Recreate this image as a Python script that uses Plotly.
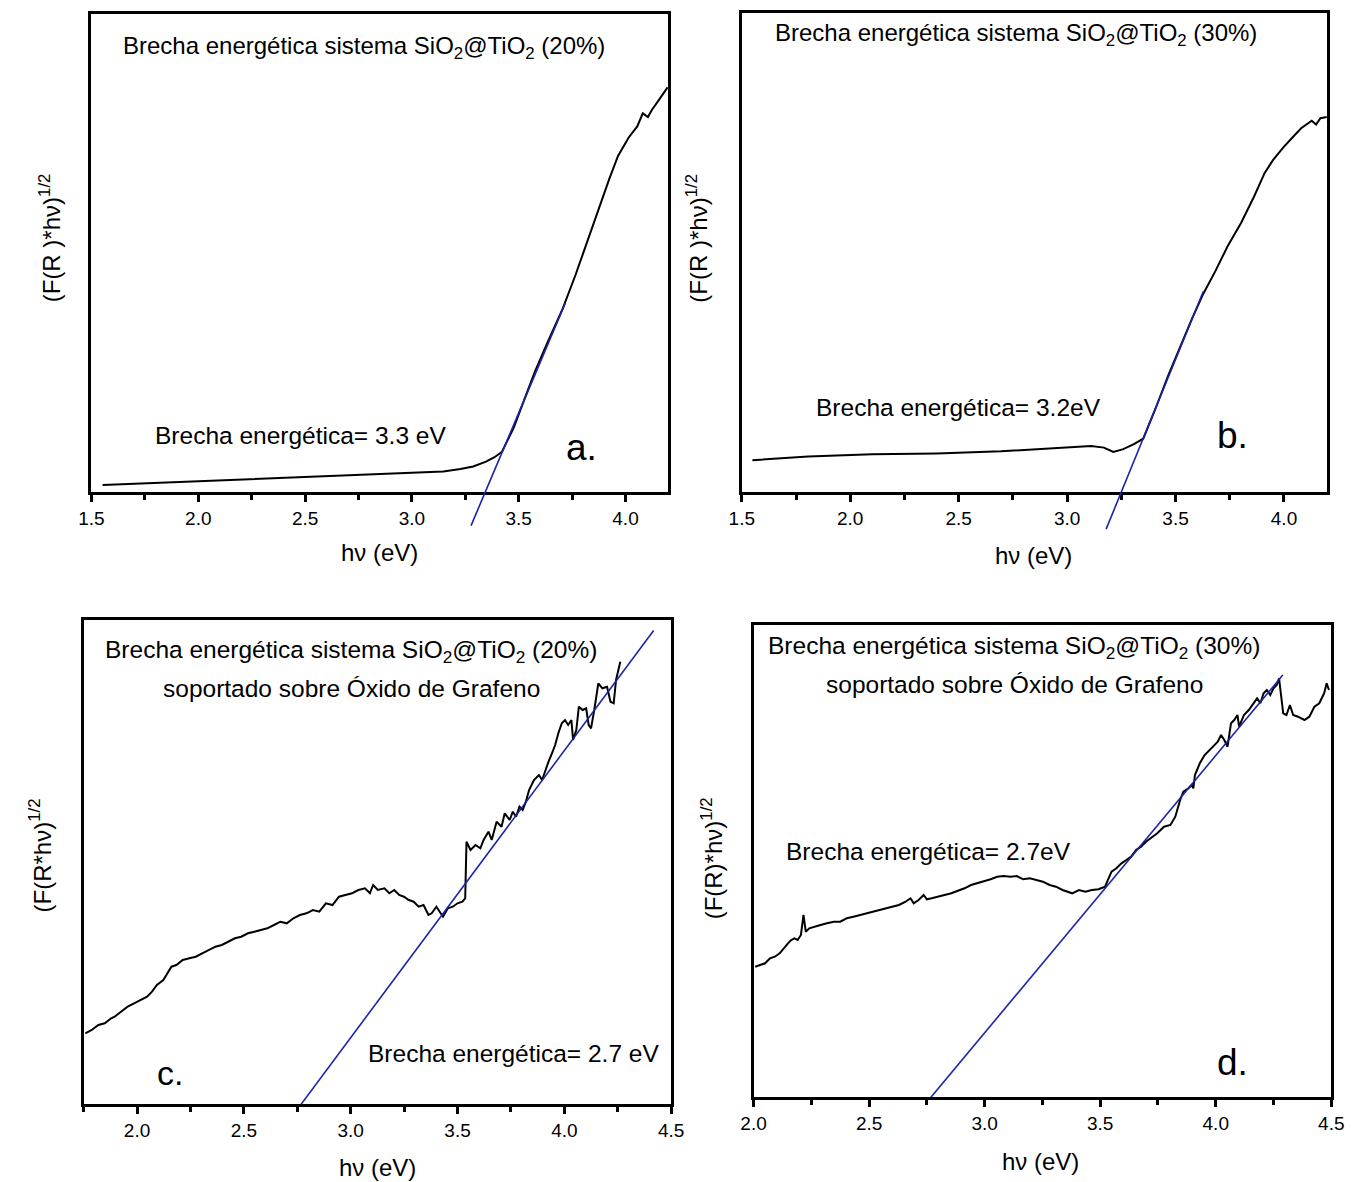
import plotly.graph_objects as go

# ---------------------------------------------------------------------------
# Kubelka-Munk (Tauc) curves, arbitrary units
# ---------------------------------------------------------------------------

# (a) SiO2@TiO2 (20 %)
a_hv = [1.552, 1.771, 2.011, 2.27, 2.529, 2.768, 3.008, 3.147, 3.227, 3.287,
        3.347, 3.387, 3.422, 3.477, 3.526, 3.576, 3.636, 3.706, 3.766, 3.826,
        3.875, 3.925, 3.965, 4.015, 4.055, 4.081, 4.105, 4.124, 4.155, 4.197]
a_f = [0.289, 0.307, 0.326, 0.352, 0.370, 0.390, 0.411, 0.426, 0.449, 0.475,
       0.523, 0.568, 0.623, 0.865, 1.144, 1.423, 1.720, 2.054, 2.390, 2.760,
       3.060, 3.356, 3.580, 3.765, 3.876, 4.006, 3.970, 4.043, 4.136, 4.266]
a_gap = 3.3            # eV
a_slope = 5.045        # a.u. per eV
a_fit_hv = [3.277, 3.718]

# (b) SiO2@TiO2 (30 %)
b_hv = [1.549, 1.806, 2.102, 2.399, 2.695, 2.992, 3.110, 3.170, 3.213, 3.259,
        3.308, 3.351, 3.407, 3.466, 3.515, 3.574, 3.628, 3.683, 3.742, 3.802,
        3.861, 3.911, 3.950, 3.999, 4.039, 4.079, 4.128, 4.148, 4.168, 4.197]
b_f = [0.583, 0.620, 0.642, 0.650, 0.672, 0.713, 0.724, 0.709, 0.665, 0.694,
       0.743, 0.798, 1.095, 1.430, 1.691, 1.988, 2.248, 2.471, 2.731, 2.955,
       3.215, 3.456, 3.586, 3.717, 3.810, 3.902, 3.977, 3.940, 4.003, 4.014]
b_gap = 3.2
b_slope = 5.305
b_fit_hv = [3.180, 3.628]

# (c) SiO2@TiO2 (20 %) on graphene oxide
c_hv = [1.758, 1.788, 1.819, 1.849, 1.879, 1.895, 1.925, 1.956, 1.986, 2.016,
        2.047, 2.070, 2.093, 2.123, 2.141, 2.161, 2.184, 2.214, 2.245, 2.275,
        2.305, 2.336, 2.367, 2.397, 2.427, 2.458, 2.488, 2.519, 2.549, 2.580,
        2.610, 2.641, 2.671, 2.701, 2.732, 2.762, 2.793, 2.823, 2.853, 2.884,
        2.915, 2.945, 2.975, 3.006, 3.036, 3.067, 3.090, 3.105, 3.127, 3.158,
        3.181, 3.204, 3.227, 3.249, 3.272, 3.295, 3.318, 3.341, 3.364, 3.379,
        3.401, 3.417, 3.432, 3.455, 3.478, 3.500, 3.523, 3.536, 3.542, 3.561,
        3.584, 3.607, 3.622, 3.645, 3.660, 3.683, 3.706, 3.721, 3.744, 3.759,
        3.774, 3.790, 3.805, 3.820, 3.835, 3.858, 3.881, 3.896, 3.911, 3.926,
        3.942, 3.957, 3.972, 3.988, 4.003, 4.018, 4.033, 4.041, 4.056, 4.068,
        4.086, 4.102, 4.114, 4.125, 4.140, 4.159, 4.178, 4.200, 4.216, 4.231,
        4.242, 4.262]
c_f = [0.905, 0.938, 0.988, 1.005, 1.055, 1.071, 1.121, 1.171, 1.205, 1.238,
       1.271, 1.321, 1.388, 1.438, 1.505, 1.571, 1.588, 1.638, 1.655, 1.671,
       1.705, 1.738, 1.771, 1.788, 1.821, 1.855, 1.871, 1.905, 1.921, 1.938,
       1.955, 1.988, 2.021, 2.005, 2.055, 2.088, 2.105, 2.138, 2.121, 2.205,
       2.188, 2.271, 2.288, 2.305, 2.338, 2.355, 2.305, 2.388, 2.338, 2.355,
       2.305, 2.338, 2.288, 2.271, 2.238, 2.221, 2.171, 2.188, 2.088, 2.105,
       2.171, 2.121, 2.071, 2.155, 2.171, 2.205, 2.221, 2.255, 2.821, 2.738,
       2.788, 2.755, 2.838, 2.921, 2.838, 3.021, 2.971, 3.105, 3.038, 3.121,
       3.071, 3.171, 3.138, 3.221, 3.338, 3.438, 3.488, 3.438, 3.538, 3.621,
       3.705, 3.788, 3.905, 4.005, 4.038, 3.988, 4.038, 3.838, 3.938, 4.171,
       4.138, 4.155, 3.988, 3.955, 4.138, 4.405, 4.355, 4.371, 4.221, 4.205,
       4.438, 4.621]
c_gap = 2.7
c_slope = 2.871
c_fit_hv = [2.7, 4.418]

# (d) SiO2@TiO2 (30 %) on graphene oxide
d_hv = [2.007, 2.028, 2.050, 2.071, 2.092, 2.113, 2.135, 2.149, 2.163, 2.177,
        2.191, 2.205, 2.216, 2.226, 2.241, 2.262, 2.290, 2.318, 2.347, 2.375,
        2.403, 2.432, 2.460, 2.488, 2.517, 2.545, 2.573, 2.601, 2.629, 2.658,
        2.679, 2.693, 2.714, 2.736, 2.750, 2.771, 2.799, 2.828, 2.856, 2.884,
        2.913, 2.941, 2.969, 2.997, 3.026, 3.054, 3.082, 3.111, 3.139, 3.167,
        3.196, 3.224, 3.252, 3.281, 3.309, 3.337, 3.379, 3.408, 3.436, 3.464,
        3.493, 3.521, 3.535, 3.549, 3.570, 3.592, 3.613, 3.634, 3.655, 3.677,
        3.698, 3.719, 3.747, 3.776, 3.804, 3.825, 3.846, 3.860, 3.882, 3.896,
        3.903, 3.910, 3.931, 3.952, 3.981, 4.009, 4.023, 4.037, 4.051, 4.066,
        4.080, 4.094, 4.101, 4.122, 4.143, 4.165, 4.179, 4.193, 4.207, 4.221,
        4.236, 4.250, 4.264, 4.274, 4.282, 4.292, 4.306, 4.321, 4.335, 4.356,
        4.384, 4.405, 4.427, 4.448, 4.469, 4.480, 4.490]
d_f = [1.493, 1.510, 1.527, 1.577, 1.593, 1.627, 1.693, 1.727, 1.760, 1.777,
       1.760, 1.810, 2.010, 1.843, 1.877, 1.893, 1.910, 1.927, 1.943, 1.943,
       1.977, 1.993, 2.010, 2.020, 2.043, 2.060, 2.077, 2.093, 2.110, 2.143,
       2.177, 2.127, 2.160, 2.210, 2.167, 2.177, 2.193, 2.210, 2.227, 2.253,
       2.277, 2.310, 2.327, 2.343, 2.367, 2.393, 2.400, 2.393, 2.400, 2.367,
       2.377, 2.360, 2.343, 2.310, 2.293, 2.260, 2.227, 2.260, 2.243, 2.260,
       2.267, 2.293, 2.360, 2.443, 2.477, 2.527, 2.560, 2.593, 2.660, 2.693,
       2.743, 2.777, 2.827, 2.893, 2.910, 2.993, 3.160, 3.243, 3.277, 3.310,
       3.277, 3.410, 3.527, 3.610, 3.677, 3.743, 3.810, 3.760, 3.693, 3.927,
       3.960, 4.010, 3.893, 4.010, 4.060, 4.127, 4.177, 4.127, 4.227, 4.260,
       4.210, 4.277, 4.310, 4.377, 4.227, 4.027, 4.010, 4.110, 4.010, 3.993,
       3.960, 3.993, 4.093, 4.127, 4.227, 4.327, 4.260]
d_gap = 2.7
d_slope = 2.773
d_fit_hv = [2.7, 4.29]

# ---------------------------------------------------------------------------
# Page geometry
# ---------------------------------------------------------------------------
W, H = 1359, 1182
FONT = "Liberation Sans, Arial, sans-serif"
BLUE = "#1b24a8"
CLEAR = "rgba(0,0,0,0)"

# plot frames in pixels: (left, top, right, bottom)
frames = {
    "a": (80, 14, 668, 492),
    "b": (743, 13, 1340, 492),
    "c": (72, 620, 671, 1104),
    "d": (755, 625, 1344, 1097),
}
x_ranges = {"a": [1.5, 4.2], "b": [1.5, 4.2], "c": [1.75, 4.5], "d": [2.0, 4.5]}
y_ranges = {"a": [0.22, 5.00], "b": [0.265, 5.055], "c": [0.198, 5.038], "d": [0.19, 4.91]}


def xdom(l, r):
    return [l / W, r / W]


def ydom(t, b):
    return [1 - b / H, 1 - t / H]


def fit_line(gap, slope, hv):
    return [slope * (e - gap) for e in hv]


fig = go.Figure()

panels = [
    ("a", "", a_hv, a_f, a_gap, a_slope, a_fit_hv),
    ("b", "2", b_hv, b_f, b_gap, b_slope, b_fit_hv),
    ("c", "3", c_hv, c_f, c_gap, c_slope, c_fit_hv),
    ("d", "4", d_hv, d_f, d_gap, d_slope, d_fit_hv),
]

layout_axes = {}
for key, n, hv, f, gap, slope, fit_hv in panels:
    l, t, r, b = frames[key]
    xa = dict(
        domain=xdom(l, r), range=x_ranges[key], anchor="y" + n,
        showline=True, linecolor="black", linewidth=2.5, mirror=True,
        ticks="outside", ticklen=7, tickwidth=2.5, tickcolor="black",
        tick0=0, dtick=0.5, tickformat=".1f",
        tickfont=dict(family=FONT, size=19, color="black"),
        minor=dict(ticks="outside", dtick=0.25, ticklen=5, tickwidth=2.5,
                   tickcolor="black"),
        showgrid=False, zeroline=False,
    )
    ya = dict(
        domain=ydom(t, b), range=y_ranges[key], anchor="x" + n,
        showline=True, linecolor="black", linewidth=2.5, mirror=True,
        ticks="", showticklabels=False, showgrid=False, zeroline=False,
    )
    layout_axes["xaxis" + n] = xa
    layout_axes["yaxis" + n] = ya

    fig.add_trace(go.Scatter(
        x=hv, y=f, mode="lines", line=dict(color="black", width=2),
        xaxis="x" + n, yaxis="y" + n, showlegend=False,
    ))

# tangent lines of (a) and (b) run a little below the energy axis, so they
# live on transparent overlay axes whose plotting area reaches further down
overlay = {"a": "5", "b": "6"}
EXT = 45
for key, n, hv, f, gap, slope, fit_hv in panels:
    l, t, r, b = frames[key]
    fit_y = fit_line(gap, slope, fit_hv)
    if key in overlay:
        m = overlay[key]
        y0, y1 = y_ranges[key]
        per_px = (y1 - y0) / (b - t)
        layout_axes["xaxis" + m] = dict(domain=xdom(l, r), range=x_ranges[key],
                                         anchor="y" + m, visible=False)
        layout_axes["yaxis" + m] = dict(domain=ydom(t, b + EXT),
                                         range=[y0 - EXT * per_px, y1],
                                         anchor="x" + m, visible=False)
        xr, yr = "x" + m, "y" + m
    else:
        xr, yr = "x" + n, "y" + n
    fig.add_trace(go.Scatter(
        x=fit_hv, y=fit_y, mode="lines", line=dict(color=BLUE, width=1.6),
        xaxis=xr, yaxis=yr, showlegend=False,
    ))

annotations = []


def txt(text, px, py, size, xanchor="left", angle=0):
    annotations.append(dict(
        text=text, x=px / W, y=1 - py / H, xref="paper", yref="paper",
        xanchor=xanchor, yanchor="middle", showarrow=False, textangle=angle,
        font=dict(family=FONT, size=size, color="black"),
    ))


TS = 24.5
SYS = "Brecha energética sistema SiO<sub>2</sub>@TiO<sub>2</sub>"
SUP = "soportado sobre Óxido de Grafeno"
HV = "hν (eV)"
AX = 24
LET = 37

# (a)
txt(SYS + " (20%)", 110, 47, 24)
txt("Brecha energética= 3.3 eV", 143, 436, TS)
txt("a.", 580, 447, LET, "center")
txt(HV, 374, 552, AX, "center")
txt("(F(R )*hν)<sup>1/2</sup>", 38, 238, AX, "center", -90)

# (b)
txt(SYS + " (30%)", 775, 35, 24)
txt("Brecha energética= 3.2eV", 817, 407, TS)
txt("b.", 1243, 435, LET, "center")
txt(HV, 1040, 555, AX, "center")
txt("(F(R )*hν)<sup>1/2</sup>", 697, 238, AX, "center", -90)

# (c)
txt(SYS + " (20%)", 345, 651, TS, "center")
txt(SUP, 345, 688, TS, "center")
txt("Brecha energética= 2.7 eV", 661, 1053, TS, "right")
txt("c.", 160, 1073, 34, "center")
txt(HV, 372, 1167, AX, "center")
txt("(F(R*hν)<sup>1/2</sup>", 28, 855, AX, "center", -90)

# (d)
txt(SYS + " (30%)", 1021, 647, TS, "center")
txt(SUP, 1021, 684, TS, "center")
txt("Brecha energética= 2.7eV", 786, 851, TS)
txt("d.", 1243, 1062, LET, "center")
txt(HV, 1048, 1161, AX, "center")
txt("(F(R)*hν)<sup>1/2</sup>", 713, 858, AX, "center", -90)

fig.update_layout(
    width=W, height=H, margin=dict(l=0, r=0, t=0, b=0),
    paper_bgcolor="white", plot_bgcolor=CLEAR,
    font=dict(family=FONT, color="black"),
    annotations=annotations, showlegend=False,
    **layout_axes,
)

fig.write_html("out.html")
